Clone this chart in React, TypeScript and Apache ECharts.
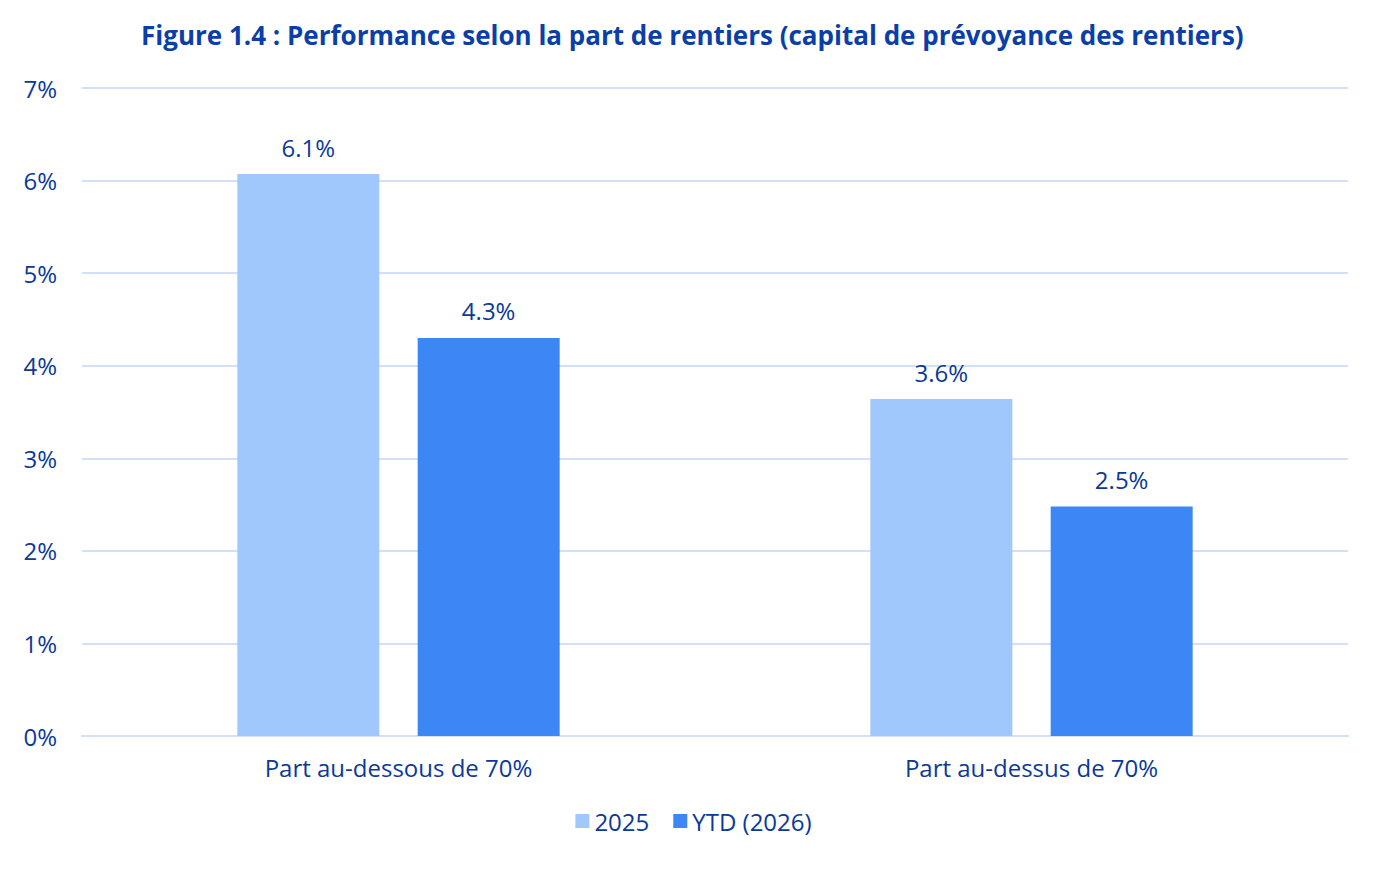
import React, { useEffect, useRef } from "react";
import * as echarts from "echarts";

const categories = ["Part au-dessous de 70%", "Part au-dessus de 70%"];
const series2025 = [6.07, 3.64];
const seriesYTD = [4.3, 2.48];
const seriesNames = ["2025", "YTD (2026)"];
const titleText = "Figure 1.4 : Performance selon la part de rentiers (capital de prévoyance des rentiers)";

const TEXT = "#0B3A96";
const FONT = "'Open Sans', 'Noto Sans', sans-serif";

export default function App() {
  const ref = useRef<HTMLDivElement>(null);
  useEffect(() => {
    document.body.style.margin = "0";
    const chart = echarts.init(ref.current!, null, { renderer: "svg" });
    const label = {
      show: true,
      position: "top",
      distance: 15,
      color: TEXT,
      fontSize: 24,
      fontFamily: FONT,
      formatter: (p: any) => p.value.toFixed(1) + "%",
    };
    chart.setOption({
      animation: false,
      backgroundColor: "#ffffff",
      title: {
        text: titleText,
        left: 136,
        top: 17,
        textStyle: { color: "#0B3FA8", fontSize: 26, fontWeight: "bold", fontFamily: FONT },
      },
      grid: { left: 82, right: 39, top: 88, bottom: 134, containLabel: false },
      legend: {
        bottom: 32,
        left: "center",
        itemWidth: 14,
        itemHeight: 14,
        itemGap: 24,
        icon: "rect",
        textStyle: { color: TEXT, fontSize: 24, fontFamily: FONT },
        data: seriesNames,
      },
      xAxis: {
        type: "category",
        data: categories,
        axisLine: { lineStyle: { color: "#D3E0FA", width: 2 } },
        axisTick: { show: false },
        axisLabel: { color: TEXT, fontSize: 24, fontFamily: FONT, margin: 19 },
      },
      yAxis: {
        type: "value",
        min: 0,
        max: 7,
        interval: 1,
        axisLabel: { color: TEXT, fontSize: 24, fontFamily: FONT, margin: 25, formatter: "{value}%" },
        splitLine: { lineStyle: { color: "#D3E0FA", width: 2 } },
        axisLine: { show: false },
        axisTick: { show: false },
      },
      series: [
        {
          name: seriesNames[0],
          type: "bar",
          data: series2025,
          barWidth: 142,
          barGap: "27%",
          itemStyle: { color: "#A0C8FC" },
          label,
        },
        {
          name: seriesNames[1],
          type: "bar",
          data: seriesYTD,
          barWidth: 142,
          itemStyle: { color: "#3D87F5" },
          label,
        },
      ],
    });
    return () => chart.dispose();
  }, []);
  return <div ref={ref} style={{ position: "absolute", left: 0, top: 0, width: 1387, height: 870 }} />;
}
